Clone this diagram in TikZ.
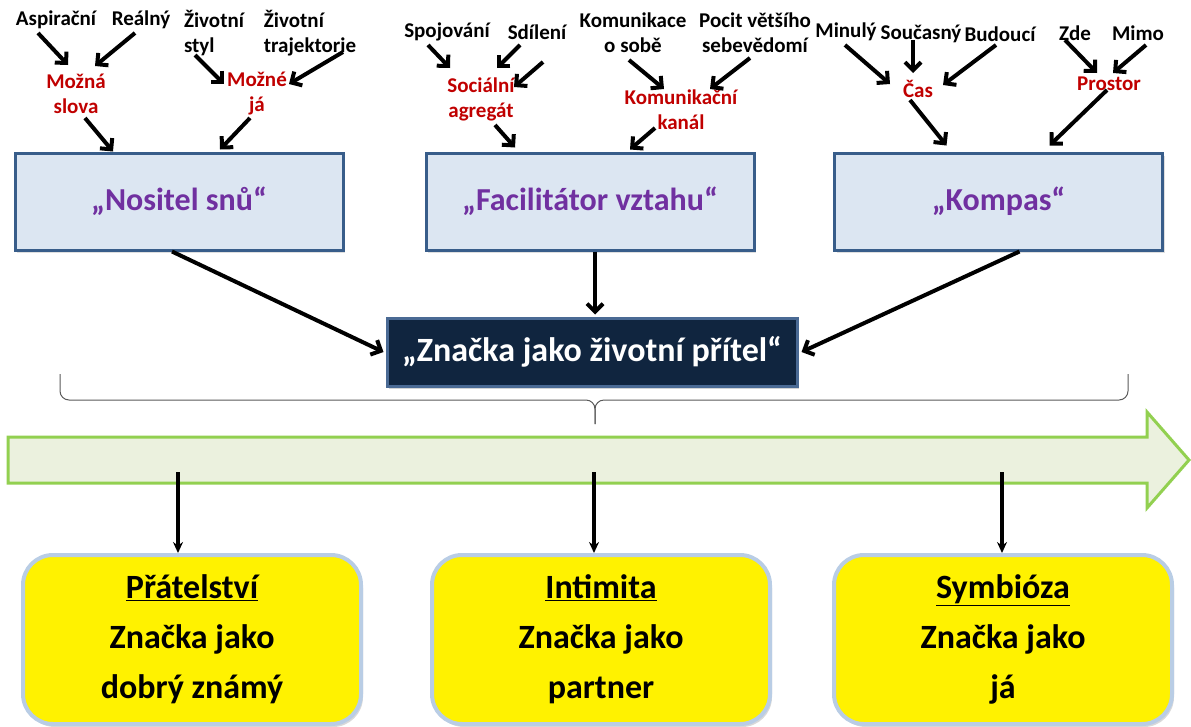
\documentclass[tikz,border=0pt]{standalone}
\usepackage{fontspec}
\setmainfont{Carlito}
\usetikzlibrary{arrows.meta,calc,shadows}
\definecolor{lblred}{HTML}{C00000}
\definecolor{lblpurple}{HTML}{7030A0}
\definecolor{boxfill}{HTML}{DCE6F2}
\definecolor{boxline}{HTML}{385D8A}
\definecolor{navy}{HTML}{10253F}
\definecolor{navyline}{HTML}{4A6A94}
\definecolor{arrfill}{HTML}{EBF1DE}
\definecolor{arrline}{HTML}{92D050}
\definecolor{yelline}{HTML}{B9CDE5}
\begin{document}
\begin{tikzpicture}[x=1pt,y=-1pt,
  word/.style={inner sep=0pt, align=center, font=\fontsize{21}{25}\selectfont\bfseries},
  redword/.style={word, text=lblred},
  arr/.style={line width=4pt, -{Straight Barb[length=8pt,width=16pt]}},
  thinarr/.style={line width=3.2pt, -{Stealth[length=11pt,width=10pt]}},
  bluebox/.style={draw=boxline, line width=3pt, fill=boxfill, minimum width=328pt,
    minimum height=97pt, inner sep=0pt, text=lblpurple,
    font=\fontsize{32}{36}\selectfont\bfseries,
    drop shadow={shadow xshift=2pt, shadow yshift=-3pt, opacity=0.25}},
  navybox/.style={draw=navyline, line width=3pt, fill=navy, minimum width=410pt,
    minimum height=68pt, inner sep=0pt, text=white,
    font=\fontsize{34}{38}\selectfont\bfseries,
    drop shadow={shadow xshift=2pt, shadow yshift=-3pt, opacity=0.35}},
  yelbox/.style={draw=yelline, line width=4pt, fill=yellow, rounded corners=30pt,
    minimum width=338pt, minimum height=169pt, inner sep=0pt, align=center,
    font=\fontsize{34}{50}\selectfont\bfseries,
    drop shadow={shadow xshift=2pt, shadow yshift=-3pt, opacity=0.3}},
  bracepath/.style={line width=1pt, draw=black!65, rounded corners=9pt}
]
\useasboundingbox (0,0) rectangle (1191,726);

% ---------- left group: dreams ----------
\node[word] (asp)   at (56,20)  {Aspirační};
\node[word] (real)  at (141,20) {Reálný};
\node[word, align=left] (zstyl) at (214,33) {Životní\\styl};
\node[word, align=left] (ztraj) at (310,33) {Životní\\trajektorie};
\node[redword] (mslova) at (76,94) {Možná\\slova};
\node[redword] (mja)    at (257,94) {Možné\\já};

% ---------- middle group: relationship ----------
\node[word] (spoj)  at (447,32) {Spojování};
\node[word] (sdil)  at (537,32) {Sdílení};
\node[word] (kom)   at (633,33) {Komunikace\\o sobě};
\node[word] (pocit) at (755,33) {Pocit většího\\sebevědomí};
\node[redword] (soc)   at (481,99)  {Sociální\\agregát};
\node[redword] (kanal) at (681,110) {Komunikační\\kanál};
\coordinate (sdil2) at (543,62);

% ---------- right group: compass ----------
\node[word] (minu) at (846,32) {Minulý};
\node[word] (sou)  at (921,34) {Současný};
\node[word] (bud)  at (1000,34) {Budoucí};
\node[word] (zde)  at (1075,33) {Zde};
\node[word] (mimo) at (1138,33) {Mimo};
\node[redword] (cas)  at (918,89) {Čas};
\node[redword] (pros) at (1109,84) {Prostor};

% ---------- three roles ----------
\node[bluebox] (nositel) at (179,201.5) {\raisebox{-4pt}{„Nositel snů“}};
\node[bluebox] (facil)   at (590,201.5) {\raisebox{-3pt}{„Facilitátor vztahu“}};
\node[bluebox] (kompas)  at (998.5,201.5) {\raisebox{-7pt}{„Kompas“}};

% ---------- central brand node ----------
\node[navybox] (znacka) at (592,352) {„Značka jako životní přítel“};

% ---------- arrows into the red labels ----------
\draw[arr] ($(asp)+(-18,13)$)  -- ($(mslova)+(-8,-29)$);
\draw[arr] ($(real)+(-6,13)$)  -- ($(mslova)+(19,-28)$);
\draw[arr] ($(zstyl)+(-19,22)$) -- ($(mja)+(-33,-10)$);
\draw[arr] ($(ztraj)+(33,19)$) -- ($(mja)+(32,-10)$);

\draw[arr] ($(spoj)+(-19,13)$) -- ($(soc)+(-31,-31)$);
\draw[arr] ($(sdil)+(-17,13)$) -- ($(soc)+(16,-31)$);
\draw[arr] (sdil2) -- ($(soc)+(33,-12)$);
\draw[arr] ($(kom)+(-4,27)$)   -- ($(kanal)+(-17,-21)$);
\draw[arr] ($(pocit)+(-5,25)$) -- ($(kanal)+(29,-21)$);

\draw[arr] ($(minu)+(-1,13)$) -- ($(cas)+(-28,-5)$);
\draw[arr] ($(sou)+(-8,6)$)   -- ($(cas)+(-5,-16)$);
\draw[arr] ($(bud)+(-4,11)$)  -- ($(cas)+(25,-4)$);
\draw[arr] ($(zde)+(-10,7)$)  -- ($(pros)+(-12,-11)$);
\draw[arr] ($(mimo)+(8,12)$)  -- ($(pros)+(4,-11)$);

% ---------- arrows from the red labels into the roles ----------
\draw[arr] ($(mslova)+(9,24)$)  -- ($(nositel.north)+(-66,0)$);
\draw[arr] ($(mja)+(-7,24)$)    -- ($(nositel.north)+(41,-2)$);
\draw[arr] ($(soc)+(14,26)$)    -- ($(facil.north)+(-75,-4)$);
\draw[arr] ($(kanal)+(-26,18)$) -- ($(facil.north)+(40,-2)$);
\draw[arr] ($(cas)+(-8,11)$)    -- ($(kompas.north)+(-52,-6)$);
\draw[arr] ($(pros)+(-2,6)$)    -- ($(kompas.north)+(51,-6)$);

% ---------- roles into the central node ----------
\draw[arr] ($(nositel.south)+(-7,0)$) -- ($(znacka.west)+(-2,0)$);
\draw[arr] ($(facil.south)+(5,0)$)    -- ($(znacka.north)+(3,-2)$);
\draw[arr] ($(kompas.south)+(21,0)$)  -- ($(znacka.east)+(3,0)$);

% ---------- brace ----------
\draw[bracepath] (60,374) -- (60,400) -- (595,400) -- (595,424);
\draw[bracepath] (1128,374) -- (1128,400) -- (595,400) -- (595,424);

% ---------- time arrow ----------
\draw[line width=3pt, draw=arrline, fill=arrfill, line join=miter]
  (8,437) -- (1147,437) -- (1147,412) -- (1189,460) -- (1147,508) -- (1147,483) -- (8,483) -- cycle;

% ---------- stages ----------
\node[yelbox] (pratel)  at (192,639.5) {\underline{Přátelství}\\Značka jako\\dobrý známý};
\node[yelbox] (intim)   at (601,639.5) {\underline{Intimita}\\Značka jako\\partner};
\node[yelbox] (symb)    at (1003,639.5) {\underline{Symbióza}\\Značka jako\\já};

\coordinate (d1) at (178,472);
\coordinate (d2) at (594,472);
\coordinate (d3) at (1002,472);
\draw[thinarr] (d1) -- (d1 |- pratel.north);
\draw[thinarr] (d2) -- (d2 |- intim.north);
\draw[thinarr] (d3) -- (d3 |- symb.north);
\end{tikzpicture}
\end{document}
